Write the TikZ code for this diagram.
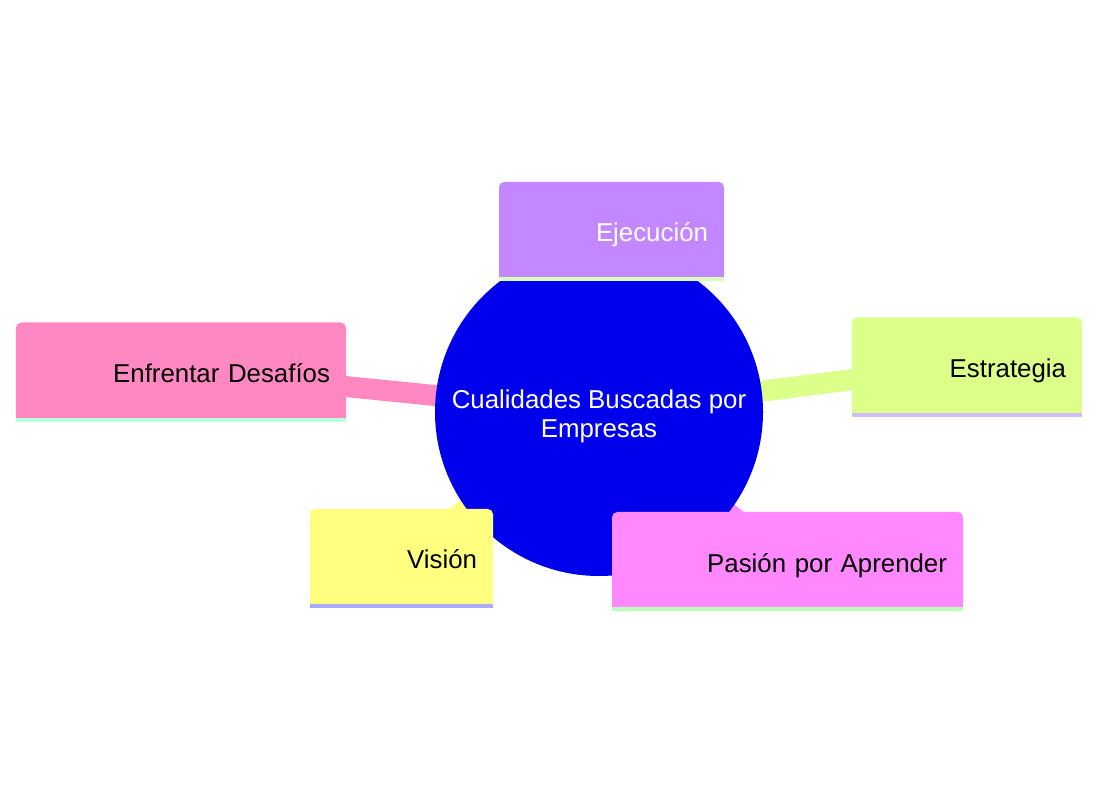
\documentclass[tikz,border=0pt]{standalone}
\usepackage{fontspec}
\setmainfont{Liberation Sans}
\usetikzlibrary{backgrounds}

\definecolor{hubblue}{RGB}{0,0,236}
\definecolor{ejecfill}{RGB}{195,136,255}
\definecolor{ejecline}{RGB}{219,255,187}
\definecolor{enfrfill}{RGB}{255,136,194}
\definecolor{enfrline}{RGB}{187,255,221}
\definecolor{estrfill}{RGB}{219,255,136}
\definecolor{estrline}{RGB}{208,187,255}
\definecolor{visfill}{RGB}{255,255,128}
\definecolor{visline}{RGB}{170,170,255}
\definecolor{pasfill}{RGB}{255,136,255}
\definecolor{pasline}{RGB}{187,255,187}

\newcommand\leaffont{\fontsize{14.7}{17}\selectfont}
\newcommand\hubfont{\fontsize{14.7}{16.4}\selectfont}

\begin{document}
\begin{tikzpicture} [
   hub/.style={circle, fill=hubblue, text=white, minimum size=6.56cm, align=center, text height=32pt, font=\hubfont},
   leaf/.style={rectangle, rounded corners=3pt, minimum height=1.9cm, inner xsep=0.32cm, align=right,
                text height=0.5cm, text depth=0cm, font=\leaffont},
   link/.style={line width=0.42cm}
]
   \useasboundingbox (0,0) rectangle (21.98,15.82);
   \node (hub) [hub] at (11.98,7.58) {Cualidades Buscadas por\\Empresas};
   \node (ejec) [leaf, fill=ejecfill, text=white, text width=3.86cm] at (12.23,11.23) {Ejecución};
   \node (enfr) [leaf, fill=enfrfill, text width=5.96cm] at (3.62,8.42) {Enfrentar Desafíos};
   \node (estr) [leaf, fill=estrfill, text width=3.96cm] at (19.34,8.52) {Estrategia};
   \node (vis) [leaf, fill=visfill, text width=3.02cm] at (8.03,4.69) {Visión};
   \node (pas) [leaf, fill=pasfill, text width=6.38cm] at (15.75,4.63) {Pasión por Aprender};
   % square bottom corners and coloured strips
   \foreach \n/\f/\s in {ejec/ejecfill/ejecline, enfr/enfrfill/enfrline, estr/estrfill/estrline,
                         vis/visfill/visline, pas/pasfill/pasline} {
      \fill [\f] ([yshift=0.12cm]\n.south west) rectangle (\n.south east);
      \fill [\s] (\n.south west) rectangle ([yshift=-0.08cm]\n.south east);
   }
   % connectors behind everything
   \begin{scope}[on background layer]
      \foreach \n/\f in {ejec/ejecfill, enfr/enfrfill, estr/estrfill, vis/visfill, pas/pasfill}
         \draw [link, \f] (hub.center) -- (\n.center);
   \end{scope}
\end{tikzpicture}
\end{document}
